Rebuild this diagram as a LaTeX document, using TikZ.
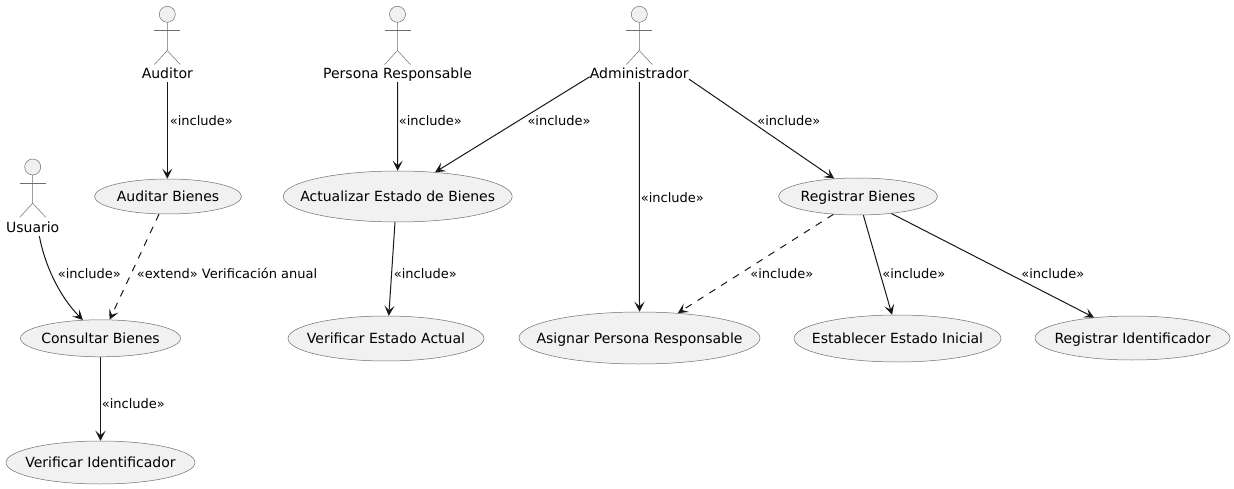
\documentclass[tikz,border=0pt]{standalone}
\usepackage{fontspec}
\setmainfont{DejaVu Sans}
\usetikzlibrary{arrows.meta,shapes.geometric}
\definecolor{ucfill}{HTML}{F1F1F1}
\definecolor{ucline}{HTML}{181818}
\definecolor{ucthin}{HTML}{6E6E6E}
\newcommand{\uct}[1]{\makebox[0pt]{\raisebox{-5.3pt}[0pt][0pt]{#1}}}
\tikzset{
  uc/.style={ellipse,draw=ucthin,fill=ucfill,line width=0.5pt,inner sep=0pt,font=\fontsize{14}{16}\selectfont},
  actorlabel/.style={inner sep=0pt,anchor=base,text depth=3.2pt,font=\fontsize{14}{16}\selectfont,text=black},
  edgelabel/.style={inner sep=0pt,anchor=base west,font=\fontsize{13}{15}\selectfont,text=black},
  rel/.style={draw=ucline,line width=1pt,-{Stealth[length=10pt,width=10pt,inset=4.5pt]}},
  reldash/.style={rel,dash pattern=on 7pt off 7pt},
  actorhead/.style={circle,draw=ucthin,fill=ucfill,line width=0.5pt,minimum size=16pt,inner sep=0pt},
  actorbody/.style={draw=ucthin,line width=0.5pt}
}
\newcommand{\actorfig}[3]{%
  \node[actorhead] (#3) at (#1,#2) {};
  \draw[actorbody] (#3.south) -- ++(0,28) -- ++(-13,14);
  \draw[actorbody] (#3.south) ++(0,28) -- ++(13,14);
  \draw[actorbody] (#3.south) ++(-13,8) -- ++(26,0);
}
\begin{document}
\begin{tikzpicture}[x=1pt,y=-1pt]
\useasboundingbox[fill=white] (0,0) rectangle (1234,489);
\actorfig{167.3}{14.3}{hAud}
\actorfig{32.7}{167}{hUsu}
\actorfig{397.5}{14.3}{hPer}
\actorfig{639.3}{14.3}{hAdm}
\node[actorlabel] (aud) at (167.3,78.8) {Auditor};
\node[actorlabel] (usu) at (32.7,232.8) {Usuario};
\node[actorlabel] (per) at (397.5,78.8) {Persona Responsable};
\node[actorlabel] (adm) at (639.3,78.8) {Administrador};

\node[uc,minimum width=147pt,minimum height=35pt] (audB) at (168,196.5) {\uct{Auditar Bienes}};
\node[uc,minimum width=160pt,minimum height=37pt] (conB) at (100.5,338.3) {\uct{Consultar Bienes}};
\node[uc,minimum width=189pt,minimum height=43pt] (verI) at (100.5,462.5) {\uct{Verificar Identificador}};
\node[uc,minimum width=229pt,minimum height=51pt] (actB) at (397.7,196.5) {\uct{Actualizar Estado de Bienes}};
\node[uc,minimum width=196pt,minimum height=45pt] (verE) at (386,338.5) {\uct{Verificar Estado Actual}};
\node[uc,minimum width=159pt,minimum height=37pt] (regB) at (858,196.5) {\uct{Registrar Bienes}};
\node[uc,minimum width=241pt,minimum height=52pt] (asiP) at (639.5,338) {\uct{Asignar Persona Responsable}};
\node[uc,minimum width=207pt,minimum height=47pt] (estI) at (897.5,338.5) {\uct{Establecer Estado Inicial}};
\node[uc,minimum width=195pt,minimum height=44pt] (regI) at (1132.5,338) {\uct{Registrar Identificador}};

\draw[rel] (aud.south) -- (audB.north -| aud.south);
\draw[rel] ([xshift=6.7pt]usu.south) .. controls (44,262) and (58,295) .. (conB.134.2);
\draw[reldash] (audB.-117.2) -- (conB.64.3);
\draw[rel] (conB.south) -- (verI.north);
\draw[rel] (per.south) -- (actB.north);
\draw[rel] ([yshift=-1.7pt]adm.west) -- (actB.33.3);
\draw[rel] (adm.south) -- (asiP.north);
\draw[rel] ([yshift=-4pt]adm.east) -- (regB.143.9);
\draw[rel] (actB.-96) -- (verE.83.2);
\draw[reldash] (regB.-144.6) -- (asiP.33.2);
\draw[rel] (regB.-74.9) -- (estI.103.9);
\draw[rel] (regB.-27.3) -- (regI.152);

\node[edgelabel] (l1) at (169.7,125.8) {«include»};
\node[edgelabel] (l2) at (57.7,278.8) {«include»};
\node[edgelabel] (l3) at (136.7,278.8) {«extend» Verificación anual};
\node[edgelabel] (l4) at (101.7,408.8) {«include»};
\node[edgelabel] (l5) at (398.7,125.8) {«include»};
\node[edgelabel] (l6) at (527.3,125.8) {«include»};
\node[edgelabel] (l7) at (640.7,202.8) {«include»};
\node[edgelabel] (l8) at (757.2,125.8) {«include»};
\node[edgelabel] (l9) at (393.7,278.8) {«include»};
\node[edgelabel] (l10) at (750.2,278.8) {«include»};
\node[edgelabel] (l11) at (882.2,278.8) {«include»};
\node[edgelabel] (l12) at (1021.2,278.8) {«include»};
\end{tikzpicture}
\end{document}
